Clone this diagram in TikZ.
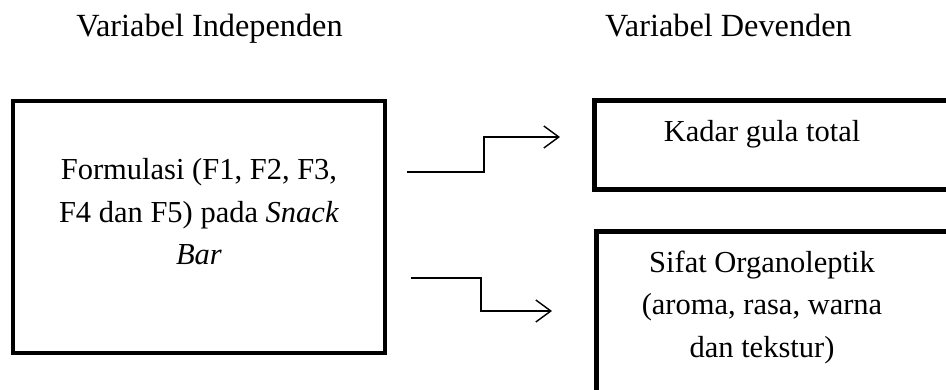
\documentclass[tikz,border=0pt]{standalone}
\usepackage{fontspec}
\setmainfont{Liberation Serif}
\usetikzlibrary{arrows.meta,positioning,calc}

\begin{document}
\begin{tikzpicture}[x=1pt,y=-1pt,
  kotak/.style={draw,line width=4.5pt,inner sep=0pt,outer sep=0pt},
  teks/.style={font=\fontsize{30.5}{42.5}\selectfont,align=center,inner sep=0pt},
  judul/.style={font=\fontsize{32.3}{40}\selectfont,inner sep=0pt,anchor=base},
  panah/.style={line width=1.4pt,-{Straight Barb[length=15pt,width=22pt,line width=1.4pt]}}]
  \useasboundingbox (0,0) rectangle (946,390);
  \clip (0,0) rectangle (946,390);
  % judul kolom
  \node[judul] (judulbebas)   at (209.5,37) {Variabel Independen};
  \node[judul] (judulterikat) at (728.5,37) {Variabel Devenden};
  % kotak variabel
  \node[kotak,minimum width=372pt,minimum height=252pt] (kiri) at (199,227) {};
  \node[kotak,anchor=north west,minimum width=400pt,minimum height=89pt] (gula) at (594.5,100.5) {};
  \node[kotak,anchor=north west,minimum width=400pt,minimum height=220pt] (sifat) at (596.5,231.5) {};
  \node[teks,anchor=base] (kiriteks) at (199,265)
    {Formulasi (F1, F2, F3,\\F4 dan F5) pada \textit{Snack}\\\textit{Bar}};
  \node[teks,anchor=base] (gulateks) at (762,142) {Kadar gula total};
  \node[teks,anchor=base] (sifatteks) at (762,357)
    {Sifat Organoleptik\\(aroma, rasa, warna\\dan tekstur)};
  % panah
  \draw[panah] ($(kiri.east)+(22,-55)$) -- ++(77,0) |- ($(gula.west)+(-34.5,-8)$);
  \draw[panah] ($(kiri.east)+(26,51)$) -- ++(70,0) |- ($(sifat.west)+(-44.5,-30.5)$);
\end{tikzpicture}
\end{document}
